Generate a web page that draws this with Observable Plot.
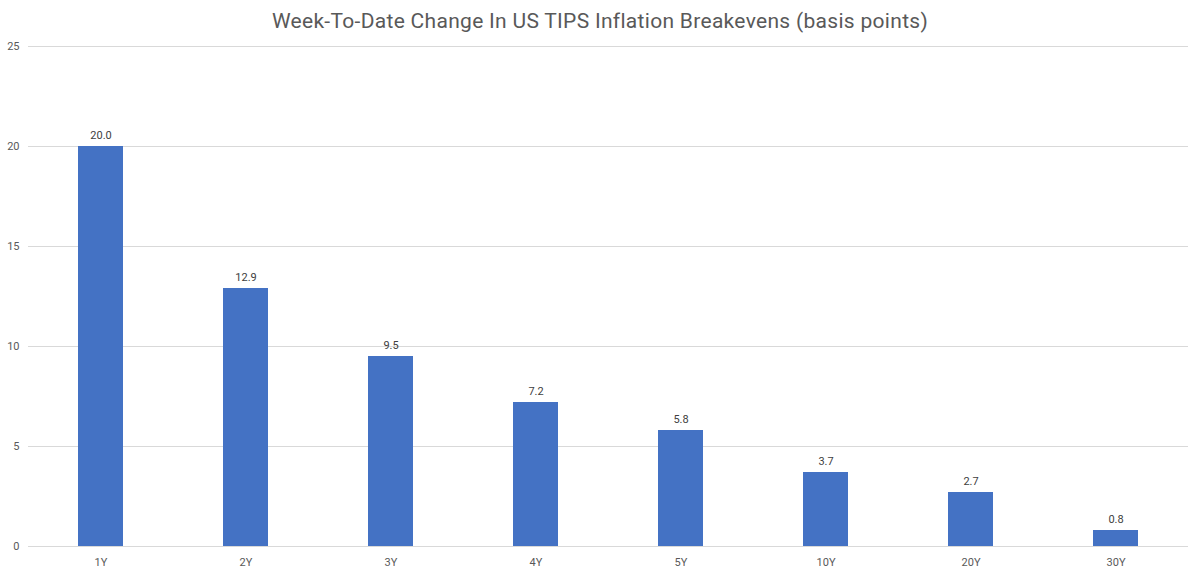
<!DOCTYPE html>
<html>
<head>
<meta charset="utf-8">
<script src="https://cdn.jsdelivr.net/npm/d3@7"></script>
<script src="https://cdn.jsdelivr.net/npm/@observablehq/plot@0.6"></script>
<style>
  body { margin: 0; background: #fff; font-family: Roboto, "Open Sans", sans-serif; }
  #title { height: 40px; line-height: 42px; text-align: center; font-size: 21px; color: #595959; letter-spacing: 0.3px; }
</style>
</head>
<body>
<div id="title">Week-To-Date Change In US TIPS Inflation Breakevens (basis points)</div>
<div id="chart"></div>
<script>
const tenors = ["1Y", "2Y", "3Y", "4Y", "5Y", "10Y", "20Y", "30Y"];
const changes = [20.0, 12.9, 9.5, 7.2, 5.8, 3.7, 2.7, 0.8];
const yTicks = [0, 5, 10, 15, 20, 25];

const data = tenors.map((t, i) => ({tenor: t, value: changes[i]}));

const chart = Plot.plot({
  width: 1200,
  height: 537,
  marginTop: 6,
  marginBottom: 31,
  marginLeft: 28,
  marginRight: 12,
  style: {fontFamily: "Roboto, sans-serif", fontSize: "11px", color: "#595959", background: "#fff"},
  x: {domain: tenors, paddingInner: 0.69, paddingOuter: 0.345, label: null, tickSize: 0, tickPadding: 12},
  y: {domain: [0, 25], ticks: yTicks, label: null, tickSize: 0, tickPadding: 9},
  marks: [
    Plot.gridY(yTicks, {stroke: "#d9d9d9", strokeOpacity: 1, strokeWidth: 1}),
    Plot.barY(data, {x: "tenor", y: "value", fill: "#4472C4"}),
    Plot.text(data, {x: "tenor", y: "value", text: d => d.value.toFixed(1), dy: -11, fill: "#404040", fontSize: 11}),
    Plot.ruleY([0], {stroke: "#d9d9d9"})
  ]
});
document.getElementById("chart").appendChild(chart);
</script>
</body>
</html>
